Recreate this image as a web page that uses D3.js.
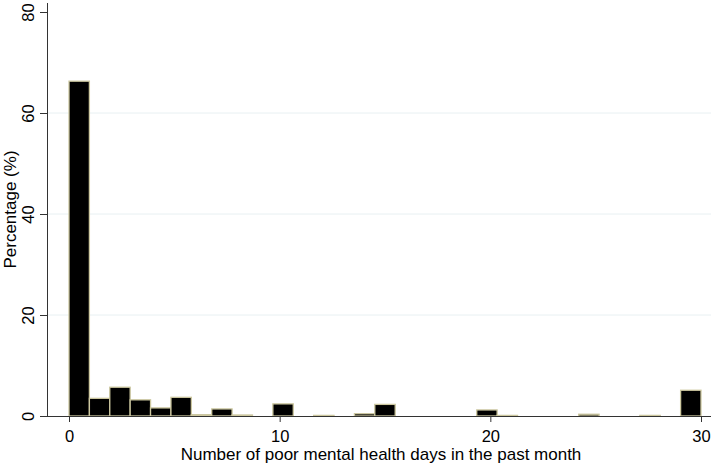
<!DOCTYPE html>
<html>
<head>
<meta charset="utf-8">
<script src="https://cdn.jsdelivr.net/npm/d3@7"></script>
<style>
  html, body { margin: 0; padding: 0; background: #fff; }
  svg { display: block; font-family: "Liberation Sans", Arial, sans-serif; }
</style>
</head>
<body>
<svg id="chart" width="714" height="464"></svg>
<script>
// Bin index = number of poor mental health days (0..30), 31 equal bins spanning 0..30
const days = d3.range(0, 31);
const percent = [66.3, 3.5, 5.7, 3.2, 1.6, 3.7, 0.25, 1.4, 0.2, 0.0, 2.4, 0.0, 0.12, 0.0, 0.45, 2.3,
                 0.0, 0.0, 0.0, 0.0, 1.2, 0.12, 0.0, 0.0, 0.0, 0.35, 0.0, 0.0, 0.12, 0.0, 5.1];
const xTicks = [0, 10, 20, 30];
const yTicks = [0, 20, 40, 60, 80];
const gridTicks = [20, 40, 60];
const xTitle = "Number of poor mental health days in the past month";
const yTitle = "Percentage (%)";

(function () {
const svg = d3.select("#chart");
const pl = 47, pr = 711, pt = 3, pb = 416;
const FONT = "Liberation Sans, Arial, sans-serif";

const x = d3.scaleLinear().domain([0, 30]).range([69, 701]);
const y = d3.scaleLinear().domain([0, 80]).range([416, 12]);
const binW = 30 / 31;

// grid
svg.append("g").selectAll("line").data(gridTicks).join("line")
  .attr("x1", pl).attr("x2", pr)
  .attr("y1", d => y(d)).attr("y2", d => y(d))
  .attr("stroke", "#e8f0f2").attr("stroke-width", 1);

// bars
svg.append("g").selectAll("rect").data(days.filter((d, i) => percent[i] > 0)).join("rect")
  .attr("x", d => x(d * binW))
  .attr("width", d => x((d + 1) * binW) - x(d * binW))
  .attr("y", d => y(percent[d]))
  .attr("height", d => y(0) - y(percent[d]))
  .attr("fill", "#000")
  .attr("stroke", "#cdc8a0")
  .attr("stroke-width", 1.3);

// x axis
const xAxis = svg.append("g").attr("transform", `translate(0,${pb})`)
  .call(d3.axisBottom(x).tickValues(xTicks).tickSize(6).tickFormat(d3.format("d")));
xAxis.select(".domain").attr("d", `M${pl},0.5H${pr}`).attr("stroke", "#333");
xAxis.selectAll(".tick line").attr("stroke", "#333");
xAxis.selectAll("text").attr("font-size", 16.5).attr("fill", "#000").attr("font-family", FONT)
  .attr("y", 25.5).attr("dy", null);

// y axis
const yAxis = svg.append("g").attr("transform", `translate(${pl},0)`)
  .call(d3.axisLeft(y).tickValues(yTicks).tickSize(7).tickFormat(d3.format("d")));
yAxis.select(".domain").attr("d", `M0.5,${pt}V${pb}`).attr("stroke", "#333");
yAxis.selectAll(".tick line").attr("stroke", "#333");
yAxis.selectAll("text")
  .attr("font-size", 16.5).attr("fill", "#000").attr("font-family", FONT)
  .attr("x", null).attr("dy", null)
  .attr("text-anchor", "middle")
  .attr("transform", "translate(-13,0) rotate(-90)");

// titles
svg.append("text").attr("x", 381).attr("y", 460)
  .attr("text-anchor", "middle").attr("font-size", 17).attr("fill", "#000")
  .text(xTitle);
svg.append("text").attr("transform", `translate(16,${(pt + pb) / 2}) rotate(-90)`)
  .attr("text-anchor", "middle").attr("font-size", 17).attr("fill", "#000")
  .text(yTitle);
})();
</script>
</body>
</html>
